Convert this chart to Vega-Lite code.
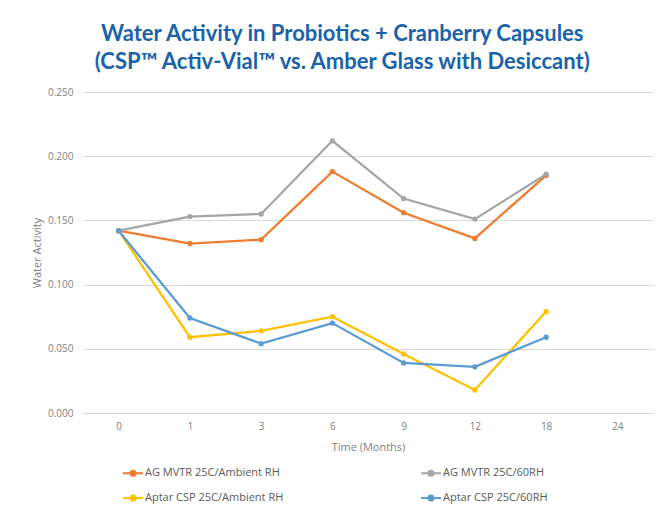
{
  "$schema": "https://vega.github.io/schema/vega-lite/v6.json",
  "autosize": {"type": "none"},
  "width": 570,
  "height": 321,
  "padding": {"left": 83, "top": 92, "right": 17, "bottom": 98},
  "background": "white",
  "title": {
    "text": ["Water Activity in Probiotics + Cranberry Capsules", "(CSP™ Activ-Vial™ vs. Amber Glass with Desiccant)"],
    "font": "Lato",
    "fontSize": 22,
    "fontWeight": "bold",
    "color": "#1a62a9",
    "anchor": "middle",
    "frame": "bounds",
    "lineHeight": 28,
    "offset": 13
  },
  "data": {
    "values": [
      {"Time": "0", "Series": "AG MVTR 25C/Ambient RH", "Value": 0.142},
      {"Time": "1", "Series": "AG MVTR 25C/Ambient RH", "Value": 0.132},
      {"Time": "3", "Series": "AG MVTR 25C/Ambient RH", "Value": 0.135},
      {"Time": "6", "Series": "AG MVTR 25C/Ambient RH", "Value": 0.188},
      {"Time": "9", "Series": "AG MVTR 25C/Ambient RH", "Value": 0.156},
      {"Time": "12", "Series": "AG MVTR 25C/Ambient RH", "Value": 0.136},
      {"Time": "18", "Series": "AG MVTR 25C/Ambient RH", "Value": 0.185},
      {"Time": "0", "Series": "AG MVTR 25C/60RH", "Value": 0.142},
      {"Time": "1", "Series": "AG MVTR 25C/60RH", "Value": 0.153},
      {"Time": "3", "Series": "AG MVTR 25C/60RH", "Value": 0.155},
      {"Time": "6", "Series": "AG MVTR 25C/60RH", "Value": 0.212},
      {"Time": "9", "Series": "AG MVTR 25C/60RH", "Value": 0.167},
      {"Time": "12", "Series": "AG MVTR 25C/60RH", "Value": 0.151},
      {"Time": "18", "Series": "AG MVTR 25C/60RH", "Value": 0.186},
      {"Time": "0", "Series": "Aptar CSP 25C/Ambient RH", "Value": 0.142},
      {"Time": "1", "Series": "Aptar CSP 25C/Ambient RH", "Value": 0.059},
      {"Time": "3", "Series": "Aptar CSP 25C/Ambient RH", "Value": 0.064},
      {"Time": "6", "Series": "Aptar CSP 25C/Ambient RH", "Value": 0.075},
      {"Time": "9", "Series": "Aptar CSP 25C/Ambient RH", "Value": 0.046},
      {"Time": "12", "Series": "Aptar CSP 25C/Ambient RH", "Value": 0.018},
      {"Time": "18", "Series": "Aptar CSP 25C/Ambient RH", "Value": 0.079},
      {"Time": "0", "Series": "Aptar CSP 25C/60RH", "Value": 0.142},
      {"Time": "1", "Series": "Aptar CSP 25C/60RH", "Value": 0.074},
      {"Time": "3", "Series": "Aptar CSP 25C/60RH", "Value": 0.054},
      {"Time": "6", "Series": "Aptar CSP 25C/60RH", "Value": 0.070},
      {"Time": "9", "Series": "Aptar CSP 25C/60RH", "Value": 0.039},
      {"Time": "12", "Series": "Aptar CSP 25C/60RH", "Value": 0.036},
      {"Time": "18", "Series": "Aptar CSP 25C/60RH", "Value": 0.059}
    ]
  },
  "encoding": {
    "x": {
      "field": "Time",
      "type": "ordinal",
      "scale": {"type": "point", "padding": 0.5, "domain": ["0", "1", "3", "6", "9", "12", "18", "24"]},
      "axis": {
        "title": "Time (Months)",
        "labelAngle": 0,
        "ticks": false,
        "domain": true,
        "domainColor": "#d9d9d9",
        "domainWidth": 1,
        "grid": false,
        "labelPadding": 8,
        "titlePadding": 10
      }
    },
    "y": {
      "field": "Value",
      "type": "quantitative",
      "scale": {"domain": [0, 0.25], "nice": false},
      "axis": {
        "title": "Water Activity",
        "format": ".3f",
        "values": [0, 0.05, 0.1, 0.15, 0.2, 0.25],
        "ticks": false,
        "domain": false,
        "grid": true,
        "gridColor": "#d9d9d9",
        "labelPadding": 10,
        "titlePadding": 5
      }
    },
    "color": {
      "field": "Series",
      "type": "nominal",
      "scale": {
        "domain": ["AG MVTR 25C/Ambient RH", "AG MVTR 25C/60RH", "Aptar CSP 25C/Ambient RH", "Aptar CSP 25C/60RH"],
        "range": ["#ED7D31", "#A5A5A5", "#FFC000", "#5B9BD5"]
      },
      "legend": {
        "title": null,
        "orient": "none",
        "legendX": 39,
        "legendY": 370,
        "direction": "horizontal",
        "columns": 2,
        "columnPadding": 133,
        "rowPadding": 7,
        "symbolType": "M-1,0L1,0M-0.25,0a0.25,0.25 0 1,0 0.5,0a0.25,0.25 0 1,0 -0.5,0",
        "symbolSize": 400,
        "symbolStrokeWidth": 2,
        "labelOffset": 1,
        "labelFontSize": 11,
        "labelColor": "#595959",
        "labelFont": "Open Sans",
        "encode": {
          "symbols": {
            "update": {
              "fill": {"scale": "color", "field": "value"},
              "stroke": {"scale": "color", "field": "value"},
              "opacity": {"value": 1}
            }
          }
        }
      }
    }
  },
  "layer": [
    {"mark": {"type": "line", "strokeWidth": 2.25}},
    {"mark": {"type": "point", "filled": true, "size": 28, "opacity": 1}}
  ],
  "config": {
    "view": {"stroke": null},
    "axis": {
      "labelFont": "Open Sans",
      "labelFontSize": 10,
      "labelColor": "#7f7f7f",
      "titleFont": "Open Sans",
      "titleFontSize": 11,
      "titleFontWeight": "normal",
      "titleColor": "#7f7f7f"
    }
  }
}
